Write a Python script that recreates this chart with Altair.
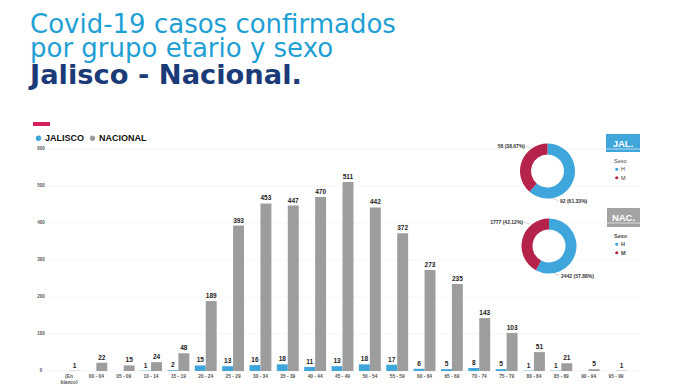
import altair as alt
import pandas as pd

# ---------------- data ----------------
categories = ["(En\nblanco)", "00 - 04", "05 - 09", "10 - 14", "15 - 19", "20 - 24",
              "25 - 29", "30 - 34", "35 - 39", "40 - 44", "45 - 49", "50 - 54",
              "55 - 59", "60 - 64", "65 - 69", "70 - 74", "75 - 79", "80 - 84",
              "85 - 89", "90 - 94", "95 - 99"]
jalisco = [None, None, None, 1, 2, 15, 13, 16, 18, 11, 13, 18, 17, 6, 5, 8, 5, 1, 1, None, None]
nacional = [1, 22, 15, 24, 48, 189, 393, 453, 447, 470, 511, 442, 372, 273, 235, 143, 103, 51, 21, 5, 1]
series = ["Jalisco", "Nacional"]
y_ticks = [0, 100, 200, 300, 400, 500, 600]
sexo = ["H", "M"]
jal_sexo = [92, 58]
nac_sexo = [2442, 1777]
title_lines = ["Covid-19 casos confirmados", "por grupo etario y sexo", "Jalisco - Nacional."]

# ---------------- style ----------------
BLUE = "#3fa6dc"
GRAY = "#9d9d9d"
RED = "#b5234b"
CYAN_T = "#1ea0d4"
NAVY = "#1b3a78"
PINK = "#d6215c"
FONT = "Liberation Sans"
TFONT = "DejaVu Sans"
M = 8  # page margin


def px(v):
    return v - M


rows = []
for c, j, n in zip(categories, jalisco, nacional):
    if j is not None:
        rows.append({"cat": c, "serie": "Jalisco", "v": j})
    if n is not None:
        rows.append({"cat": c, "serie": "Nacional", "v": n})
bars_df = pd.DataFrame(rows)
cat_df = pd.DataFrame({"cat": categories})
tick_df = pd.DataFrame({"tick": y_ticks})

xs = alt.Scale(domain=categories, range=[px(55.3), px(629.7)], paddingInner=0.2, paddingOuter=0.1)
ys = alt.Scale(domain=[0, 600], range=[px(371), px(149)])
X = alt.X("cat:N", sort=categories, scale=xs, axis=None)
XO = alt.XOffset("serie:N", scale=alt.Scale(domain=series, paddingInner=0, paddingOuter=0))

grid = alt.Chart(tick_df).mark_rule(color="#f1f1f1", strokeWidth=0.7).encode(
    y=alt.Y("tick:Q", scale=ys, axis=None), x=alt.value(px(48)), x2=alt.value(px(640)))
ylab = alt.Chart(tick_df).mark_text(font=FONT, fontSize=4.5, fontWeight="bold", color="#555").encode(
    y=alt.Y("tick:Q", scale=ys, axis=None), x=alt.value(px(41)), text="tick:Q")

bars = alt.Chart(bars_df).mark_bar().encode(
    x=X, xOffset=XO,
    y=alt.Y("v:Q", scale=ys, axis=None),
    color=alt.Color("serie:N", scale=alt.Scale(domain=series, range=[BLUE, GRAY]),
                    legend=alt.Legend(orient="none", legendX=px(34), legendY=px(133.5), direction="horizontal",
                                      title=None, labelExpr="upper(datum.label)", symbolType="circle",
                                      symbolSize=28, labelFont=FONT, labelFontSize=9, labelFontWeight="bold",
                                      labelColor="#111", labelOffset=2, columnPadding=3, padding=0)),
)
barlab = alt.Chart(bars_df).mark_text(font=FONT, fontSize=6.5, fontWeight="bold", color="#222",
                                      baseline="bottom", dy=-2).encode(
    x=X, xOffset=XO, y=alt.Y("v:Q", scale=ys, axis=None), text="v:Q")
xlab = alt.Chart(cat_df).mark_text(font=FONT, fontSize=4.8, fontWeight="bold", color="#555",
                                   baseline="middle", lineBreak="\n", lineHeight=6).encode(
    x=X, y=alt.value(px(377)), text="cat:N")

bars_layer = alt.layer(grid, ylab, bars, barlab, xlab)


def donut(counts, cx, cy, leg_y, lab_m, lab_h, lines, bold):
    df = pd.DataFrame({"sexo": sexo, "n": counts})
    w = "bold" if bold else "normal"
    arc = alt.Chart(df).mark_arc(radius=27.5, innerRadius=16.5).encode(
        theta=alt.Theta("n:Q", stack=True),
        order=alt.Order("sexo:N"),
        color=alt.Color("sexo:N", scale=alt.Scale(domain=sexo, range=[BLUE, RED]),
                        legend=alt.Legend(orient="none", legendX=px(614), legendY=px(leg_y), title="Sexo",
                                          titleFont=FONT, titleFontSize=5.5, titleColor="#444",
                                          titleFontWeight=w, titlePadding=2, labelFont=FONT,
                                          labelFontSize=5.5, labelFontWeight=w,
                                          labelColor="#444", symbolType="circle", symbolSize=10,
                                          rowPadding=1.5, labelOffset=1.5, padding=0)),
        x=alt.value(px(cx)), y=alt.value(px(cy)))
    base = alt.Chart(df).transform_joinaggregate(total="sum(n)").transform_calculate(
        lbl="datum.n + ' (' + format(datum.n / datum.total, '.2%') + ')'")
    tm = base.transform_filter("datum.sexo == 'M'").mark_text(
        font=FONT, fontSize=5, fontWeight="bold", color="#333", align="right").encode(
        text="lbl:N", x=alt.value(px(lab_m[0])), y=alt.value(px(lab_m[1])))
    th = base.transform_filter("datum.sexo == 'H'").mark_text(
        font=FONT, fontSize=5, fontWeight="bold", color="#333", align="left").encode(
        text="lbl:N", x=alt.value(px(lab_h[0])), y=alt.value(px(lab_h[1])))
    layers = [arc, tm, th]
    for (x1, y1, x2, y2) in lines:
        layers.append(alt.Chart(df.head(1)).mark_rule(color="#bbb", strokeWidth=0.6).encode(
            x=alt.value(px(x1)), y=alt.value(px(y1)), x2=alt.value(px(x2)), y2=alt.value(px(y2))))
    return alt.layer(*layers)


jal = donut(jal_sexo, 547.5, 171, 159, (525, 146), (560, 201),
            [(526, 146, 531, 148), (553, 198, 558, 201)], False)
nac = donut(nac_sexo, 549, 246, 234, (523, 222), (561, 276),
            [(524, 222, 529, 224), (554, 273, 559, 276)], True)


def txt(text, x, y, **kw):
    return alt.Chart(pd.DataFrame({"t": [text]})).mark_text(**kw).encode(
        text="t:N", x=alt.value(px(x)), y=alt.value(px(y)))


def box(x1, y1, x2, y2, color):
    return alt.Chart(pd.DataFrame({"t": [0]})).mark_rect(color=color).encode(
        x=alt.value(px(x1)), x2=alt.value(px(x2)), y=alt.value(px(y1)), y2=alt.value(px(y2)))


decor = [
    txt(title_lines[0], 30, 33, font=TFONT, fontSize=26, color=CYAN_T, align="left", baseline="alphabetic"),
    txt(title_lines[1], 30, 57, font=TFONT, fontSize=26, color=CYAN_T, align="left", baseline="alphabetic"),
    txt(title_lines[2], 30, 84, font=TFONT, fontSize=27.3, fontWeight="bold", color=NAVY, align="left",
        baseline="alphabetic"),
    box(33, 122, 50, 126, PINK),
    box(606, 134, 640, 152, BLUE),
    txt("JAL.", 623, 143.5, font=FONT, fontSize=9.5, fontWeight="bold", color="white", baseline="middle"),
    box(607, 208, 640, 227, "#a3a3a3"),
    txt("NAC.", 623.5, 218, font=FONT, fontSize=9.5, fontWeight="bold", color="white", baseline="middle"),
]

chart = alt.layer(*decor, bars_layer, jal, nac).properties(
    width=684, height=376, padding=0, autosize=alt.AutoSizeParams(type="none"), background="white"
).resolve_scale(color="independent", theta="independent").configure_view(stroke=None)

chart.save("out.html", embed_options={"renderer": "svg", "actions": False})
